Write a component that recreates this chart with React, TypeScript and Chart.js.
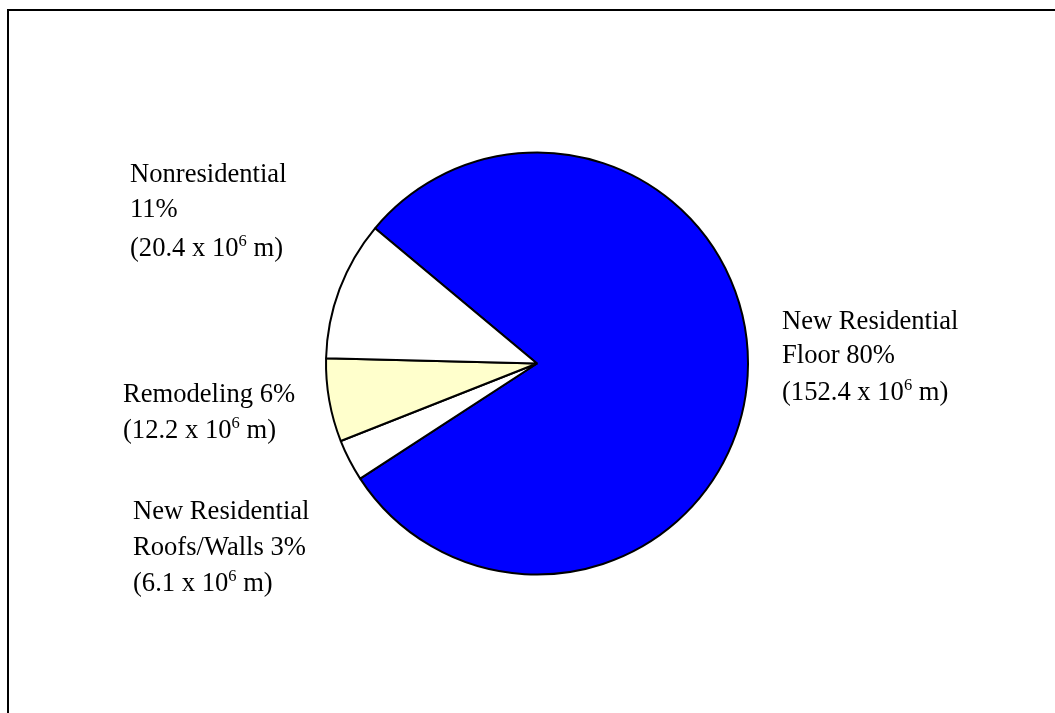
import React, { useEffect, useRef } from "react";
import { Chart, registerables } from "chart.js";

Chart.register(...registerables);

const categories = [
  "New Residential Floor",
  "New Residential Roofs/Walls",
  "Remodeling",
  "Nonresidential",
];
const values = [152.4, 6.1, 12.2, 20.4];
const percents = ["80%", "3%", "6%", "11%"];
const colors = ["#0000FF", "#FFFFFF", "#FFFFCC", "#FFFFFF"];

// label text lines per slice (last line carries the 10^6 superscript)
const labelLines = [
  ["New Residential", "Floor 80%"],
  ["New Residential", "Roofs/Walls 3%"],
  ["Remodeling 6%"],
  ["Nonresidential", "11%"],
];
// label anchor offsets relative to pie center (left x, first baseline y), line gaps
const labelOffsets = [
  { dx: 245, dy: -35, gaps: [34.5, 36.5] },
  { dx: -404, dy: 155.5, gaps: [36, 36] },
  { dx: -414, dy: 38.5, gaps: [36] },
  { dx: -407, dy: -181.2, gaps: [34.5, 39] },
];

const FONT = "'Liberation Serif', 'Times New Roman', serif";
const FS = 26.6;

const framePlugin = {
  id: "frame",
  beforeDraw(chart: any) {
    const ctx = chart.ctx;
    ctx.save();
    ctx.strokeStyle = "#000";
    ctx.lineWidth = 2;
    ctx.beginPath();
    ctx.moveTo(8, chart.height + 10);
    ctx.lineTo(8, 10);
    ctx.lineTo(chart.width + 10, 10);
    ctx.stroke();
    ctx.restore();
  },
};

const labelPlugin = {
  id: "pieLabels",
  afterDraw(chart: any) {
    const ctx = chart.ctx;
    const arc = chart.getDatasetMeta(0).data[0];
    const cx = arc.x;
    const cy = arc.y;
    ctx.save();
    ctx.fillStyle = "#000";
    ctx.textBaseline = "alphabetic";
    ctx.textAlign = "left";
    labelLines.forEach((lines, i) => {
      const off = labelOffsets[i];
      const x = cx + off.dx;
      let y = cy + off.dy;
      ctx.font = `${FS}px ${FONT}`;
      lines.forEach((t, j) => {
        ctx.fillText(t, x, y);
        y += off.gaps[j];
      });
      // value line with superscript
      const v = values[i].toFixed(1);
      const a = `(${v} x 10`;
      ctx.font = `${FS}px ${FONT}`;
      ctx.fillText(a, x, y);
      let w = ctx.measureText(a).width;
      ctx.font = `${(FS * 0.62).toFixed(1)}px ${FONT}`;
      ctx.fillText("6", x + w, y - 10);
      w += ctx.measureText("6").width;
      ctx.font = `${FS}px ${FONT}`;
      ctx.fillText(" m)", x + w, y);
    });
    ctx.restore();
  },
};

export default function App() {
  const ref = useRef<HTMLCanvasElement | null>(null);
  useEffect(() => {
    if (!ref.current) return;
    const chart = new Chart(ref.current, {
      type: "pie",
      data: {
        labels: categories,
        datasets: [
          {
            data: values,
            backgroundColor: colors,
            borderColor: "#000000",
            borderWidth: 2,
            radius: 211,
          } as any,
        ],
      },
      options: {
        animation: false,
        responsive: true,
        maintainAspectRatio: false,
        rotation: -50.15,
        layout: { padding: { left: 19, top: 14, right: 0, bottom: 0 } },
        plugins: {
          legend: { display: false },
          tooltip: { enabled: false },
          title: { display: false },
        },
        events: [],
      },
      plugins: [framePlugin, labelPlugin],
    });
    return () => chart.destroy();
  }, []);
  return (
    <div
      style={{
        position: "fixed",
        left: 0,
        top: 0,
        width: 1055,
        height: 713,
        background: "#fff",
      }}
    >
      <canvas ref={ref} />
    </div>
  );
}
